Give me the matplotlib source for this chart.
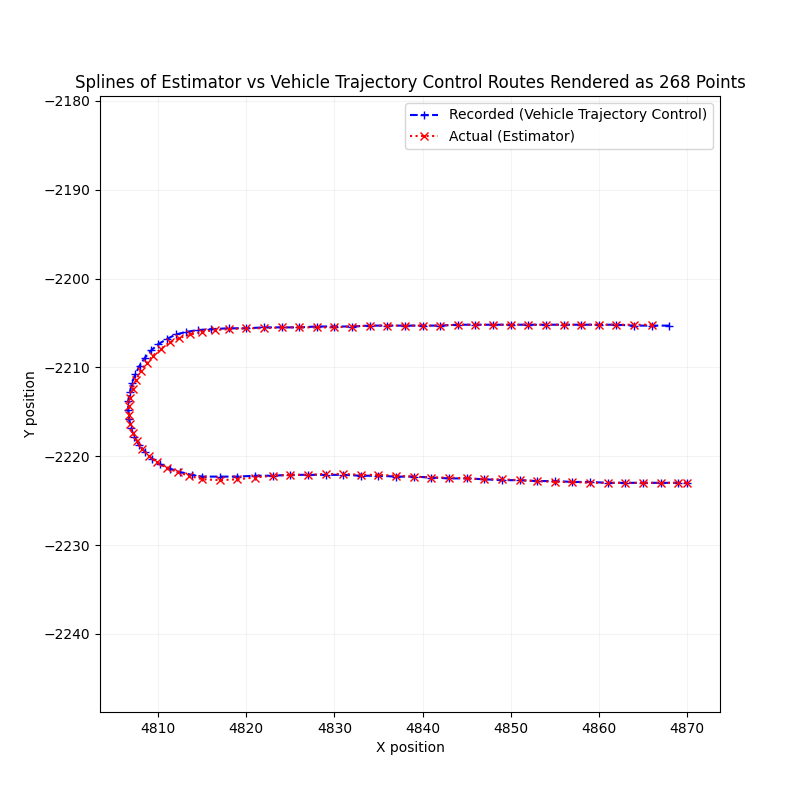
import matplotlib
matplotlib.use("Agg")
import matplotlib.pyplot as plt

# Recorded (vehicle trajectory control) route
rec_x = [4868, 4866, 4864, 4862, 4860, 4858, 4856, 4854, 4852, 4850, 4848, 4846, 4844, 4842,
         4840, 4838, 4836, 4834, 4832, 4830, 4828, 4826, 4824, 4822, 4820, 4818, 4816,
         4814.5, 4813.2, 4812.0, 4811.0, 4810.0, 4809.2, 4808.5, 4807.9, 4807.4, 4807.0,
         4806.8, 4806.6, 4806.6, 4806.7, 4806.9, 4807.3, 4807.8, 4808.5, 4809.3, 4810.2,
         4811.3, 4812.5, 4813.8, 4815, 4817, 4819, 4821, 4823, 4825, 4827, 4829, 4831,
         4833, 4835, 4837, 4839, 4841, 4843, 4845, 4847, 4849, 4851, 4853, 4855, 4857,
         4859, 4861, 4863, 4865, 4867, 4869, 4870]
rec_y = [-2205.3, -2205.3, -2205.3, -2205.2, -2205.2, -2205.2, -2205.2, -2205.2, -2205.2, -2205.2,
         -2205.2, -2205.2, -2205.2, -2205.3, -2205.3, -2205.3, -2205.3, -2205.3, -2205.4, -2205.4,
         -2205.4, -2205.5, -2205.5, -2205.5, -2205.6, -2205.6, -2205.7,
         -2205.8, -2206.0, -2206.3, -2206.8, -2207.4, -2208.1, -2208.9, -2209.8, -2210.8, -2211.8,
         -2212.8, -2213.8, -2214.8, -2215.8, -2216.8, -2217.8, -2218.7, -2219.5, -2220.3, -2220.9,
         -2221.4, -2221.8, -2222.1, -2222.3, -2222.3, -2222.3, -2222.2, -2222.2, -2222.1, -2222.1,
         -2222.1, -2222.1, -2222.2, -2222.2, -2222.3, -2222.3, -2222.4, -2222.5, -2222.5, -2222.6,
         -2222.7, -2222.7, -2222.8, -2222.8, -2222.9, -2222.9, -2223.0, -2223.0, -2223.0, -2223.0,
         -2223.0, -2223.0]

# Actual (estimator) route
act_x = [4866, 4864, 4862, 4860, 4858, 4856, 4854, 4852, 4850, 4848, 4846, 4844, 4842,
         4840, 4838, 4836, 4834, 4832, 4830, 4828, 4826, 4824, 4822, 4820, 4818, 4816.5,
         4815.0, 4813.6, 4812.4, 4811.3, 4810.3, 4809.4, 4808.7, 4808.0, 4807.5, 4807.1,
         4806.8, 4806.7, 4806.7, 4806.8, 4807.1, 4807.6, 4808.2, 4809.0, 4809.9, 4811.0,
         4812.2, 4813.5, 4815, 4817, 4819, 4821, 4823, 4825, 4827, 4829, 4831, 4833,
         4835, 4837, 4839, 4841, 4843, 4845, 4847, 4849, 4851, 4853, 4855, 4857, 4859,
         4861, 4863, 4865, 4867, 4869, 4870]
act_y = [-2205.2, -2205.2, -2205.2, -2205.2, -2205.2, -2205.2, -2205.2, -2205.2, -2205.2, -2205.2,
         -2205.2, -2205.2, -2205.3, -2205.3, -2205.3, -2205.3, -2205.3, -2205.4, -2205.5, -2205.5,
         -2205.5, -2205.5, -2205.6, -2205.6, -2205.7, -2205.8,
         -2206.0, -2206.3, -2206.7, -2207.2, -2207.9, -2208.7, -2209.5, -2210.4, -2211.4, -2212.4,
         -2213.4, -2214.4, -2215.4, -2216.4, -2217.4, -2218.3, -2219.2, -2220.0, -2220.7, -2221.3,
         -2221.8, -2222.2, -2222.6, -2222.7, -2222.6, -2222.4, -2222.2, -2222.1, -2222.1, -2222.0,
         -2222.0, -2222.1, -2222.1, -2222.2, -2222.3, -2222.4, -2222.4, -2222.5, -2222.6, -2222.6,
         -2222.7, -2222.8, -2222.9, -2222.9, -2223.0, -2223.0, -2223.0, -2223.0, -2223.0, -2223.0,
         -2223.0]

n_points = 268

fig, ax = plt.subplots(figsize=(8, 8), dpi=100)
ax.plot(rec_x, rec_y, "b--+", label="Recorded (Vehicle Trajectory Control)")
ax.plot(act_x, act_y, "r:x", label="Actual (Estimator)")
ax.set_xlim(4803.4, 4873.75)
ax.set_ylim(-2248.8, -2179.45)
ax.grid(True, alpha=0.15)
ax.set_xlabel("X position")
ax.set_ylabel("Y position")
ax.set_title(f"Splines of Estimator vs Vehicle Trajectory Control Routes Rendered as {n_points} Points")
ax.legend(loc="upper right")
plt.savefig("out.png")
